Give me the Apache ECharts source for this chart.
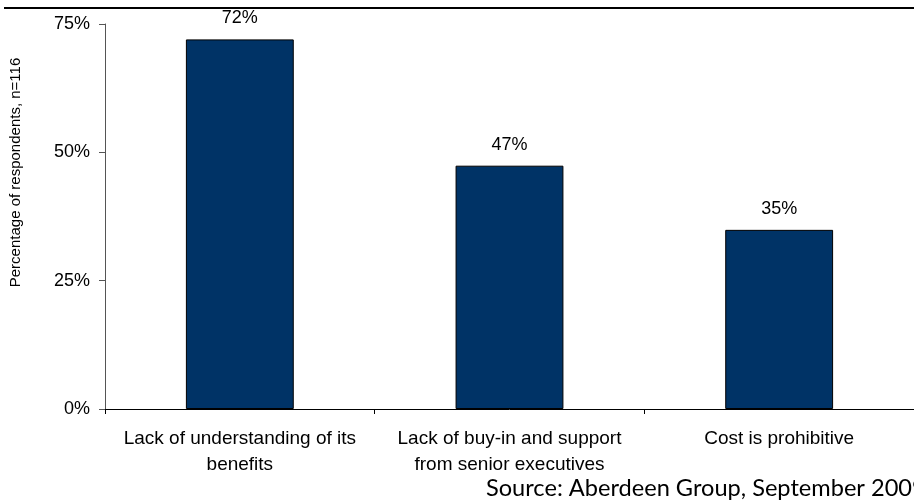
<!DOCTYPE html>
<html>
<head>
<meta charset="utf-8">
<script src="https://cdn.jsdelivr.net/npm/echarts@6/dist/echarts.min.js"></script>
<style>
  html, body { margin: 0; padding: 0; background: #fff; }
  #main { width: 914px; height: 501px; }
</style>
</head>
<body>
<div id="main"></div>
<script>
var categories = [
    'Lack of understanding of its\nbenefits',
    'Lack of buy-in and support\nfrom senior executives',
    'Cost is prohibitive'
];
var percentages = [72, 47.4, 34.9];
var yTicks = [0, 25, 50, 75];

var myChart = echarts.init(document.getElementById('main'));

var option = {
    animation: false,
    textStyle: { fontFamily: 'Liberation Sans, Arial, sans-serif' },
    grid: { left: 103, right: 0, top: 24, bottom: 92, containLabel: false },
    graphic: [
        {   // top rule
            type: 'line',
            shape: { x1: 4, y1: 8, x2: 914, y2: 8 },
            style: { stroke: '#000', lineWidth: 2 }
        },
        {
            type: 'text',
            left: 486,
            top: 476,
            style: {
                text: 'Source: Aberdeen Group, September 2009',
                font: '23.6px Lato, "Open Sans", sans-serif',
                fill: '#000'
            }
        }
    ],
    xAxis: {
        type: 'category',
        data: categories,
        axisLine: { lineStyle: { color: '#000', width: 1 } },
        axisTick: { show: true, alignWithLabel: false, length: 5, lineStyle: { color: '#000' } },
        axisLabel: {
            color: '#000',
            fontSize: 19,
            lineHeight: 26,
            margin: 17,
            interval: 0
        }
    },
    yAxis: {
        type: 'value',
        min: yTicks[0],
        max: yTicks[yTicks.length - 1],
        interval: 25,
        name: 'Percentage of respondents, n=116',
        nameLocation: 'middle',
        nameGap: 82,
        nameTextStyle: { color: '#000', fontSize: 15, padding: [0, 0, 0, 88] },
        axisLine: { show: true, lineStyle: { color: '#555', width: 1 } },
        axisTick: { show: true, length: 6, lineStyle: { color: '#555' } },
        splitLine: { show: false },
        axisLabel: {
            color: '#000',
            fontSize: 18,
            margin: 15,
            formatter: function (v) { return v + '%'; }
        }
    },
    series: [{
        type: 'bar',
        data: percentages,
        barWidth: '40%',
        itemStyle: { color: '#003366', borderColor: '#000', borderWidth: 1 },
        label: {
            show: true,
            position: 'top',
            distance: 12,
            color: '#000',
            fontSize: 18,
            formatter: function (p) { return Math.round(p.value) + '%'; }
        }
    }]
};

myChart.setOption(option);
</script>
</body>
</html>
